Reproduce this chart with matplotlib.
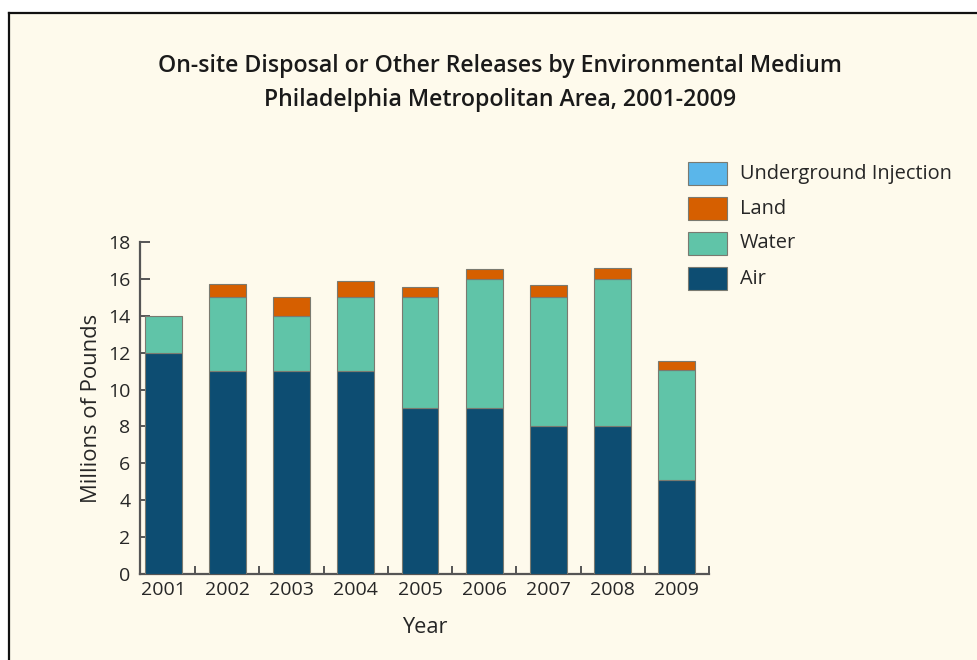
import matplotlib
matplotlib.use("Agg")
import matplotlib.pyplot as plt
from matplotlib.patches import Rectangle
from matplotlib.lines import Line2D
import numpy as np

years = ["2001", "2002", "2003", "2004", "2005", "2006", "2007", "2008", "2009"]
air = [12.0, 11.0, 11.0, 11.0, 9.0, 9.0, 8.0, 8.0, 5.1]
water = [2.0, 4.0, 3.0, 4.0, 6.0, 7.0, 7.0, 8.0, 5.95]
land = [0.0, 0.7, 1.0, 0.9, 0.55, 0.5, 0.65, 0.6, 0.5]
underground = [0.0, 0.0, 0.0, 0.0, 0.0, 0.0, 0.0, 0.0, 0.0]
y_ticks = [0, 2, 4, 6, 8, 10, 12, 14, 16, 18]
legend_order = ["Underground Injection", "Land", "Water", "Air"]

colors = {
    "Air": "#0d4d72",
    "Water": "#60c4a8",
    "Land": "#d65f00",
    "Underground Injection": "#5ab6ea",
}
bg = "#fefaec"
edge = "#7a7a70"
spine_col = "#555555"
text_col = "#262626"

plt.rcParams["font.family"] = ["Open Sans", "DejaVu Sans"]

W, H = 977, 660
fig = plt.figure(figsize=(W / 100, H / 100), dpi=100)
fig.patch.set_facecolor("white")

# cream panel with a dark rule on its left and top edges
fx0, fy1 = 8.5 / W, 1 - 12.5 / H
fig.add_artist(Rectangle((fx0, 0), 1 - fx0, fy1, transform=fig.transFigure,
                         facecolor=bg, edgecolor="none", zorder=0))
fig.add_artist(Line2D([fx0, fx0], [0, fy1], transform=fig.transFigure,
                      color="#111111", lw=1.6, zorder=1))
fig.add_artist(Line2D([fx0, 1], [fy1, fy1], transform=fig.transFigure,
                      color="#111111", lw=1.6, zorder=1))

ax = fig.add_axes([140 / W, 1 - 574.3 / H, (709 - 140) / W, (574.3 - 241.7) / H])
ax.set_facecolor("none")

x = np.arange(len(years))
bw = 0.575
air_a = np.array(air)
water_a = np.array(water)
land_a = np.array(land)
und_a = np.array(underground)

ax.bar(x, air_a, bw, color=colors["Air"], edgecolor=edge, linewidth=0.8, zorder=3)
ax.bar(x, water_a, bw, bottom=air_a, color=colors["Water"], edgecolor=edge,
       linewidth=0.8, zorder=3)
ax.bar(x, land_a, bw, bottom=air_a + water_a, color=colors["Land"],
       edgecolor=np.where(land_a > 0, edge, "none").tolist(), linewidth=0.8, zorder=3)
ax.bar(x, und_a, bw, bottom=air_a + water_a + land_a,
       color=colors["Underground Injection"], linewidth=0, zorder=3)

ax.set_xlim(-0.36, len(years) - 0.5)
ax.set_ylim(0, 18)

for s in ["top", "right"]:
    ax.spines[s].set_visible(False)
for s in ["left", "bottom"]:
    ax.spines[s].set_color(spine_col)
    ax.spines[s].set_linewidth(1.6)

ax.set_yticks(y_ticks)
ax.set_yticklabels([str(v) for v in y_ticks])
ax.tick_params(axis="y", direction="in", length=7, width=1.4, color=spine_col,
               labelsize=14, labelcolor=text_col, pad=7)

ax.set_xticks(x)
ax.set_xticklabels(years)
ax.tick_params(axis="x", which="major", length=0, labelsize=14,
               labelcolor=text_col, pad=5)
ax.set_xticks(np.arange(len(years)) + 0.5, minor=True)
ax.tick_params(axis="x", which="minor", direction="in", length=6, width=1.4,
               color=spine_col)

ax.set_ylabel("Millions of Pounds", fontsize=15.8, color=text_col, labelpad=4)
ax.set_xlabel("Year", fontsize=15.7, color=text_col, labelpad=13)

fig.text(500 / W, 1 - 66 / H, "On-site Disposal or Other Releases by Environmental Medium",
         ha="center", va="center", fontsize=16.7, fontweight="semibold", color="#1a1a1a")
fig.text(500 / W, 1 - 100 / H, "Philadelphia Metropolitan Area, 2001-2009",
         ha="center", va="center", fontsize=16.7, fontweight="semibold", color="#1a1a1a")

# key: swatches with labels, one row per medium
row_top, row_step, sw_w, sw_h = 162, 35, 39, 23
for i, name in enumerate(legend_order):
    top = row_top + i * row_step
    fig.add_artist(Rectangle((688 / W, 1 - (top + sw_h) / H), sw_w / W, sw_h / H,
                             transform=fig.transFigure, facecolor=colors[name],
                             edgecolor=edge, linewidth=0.8, zorder=2))
    fig.text(740 / W, 1 - (top + sw_h / 2) / H, name, ha="left", va="center",
             fontsize=14.4, color=text_col)

fig.savefig("out.png", dpi=100, facecolor=fig.get_facecolor())
